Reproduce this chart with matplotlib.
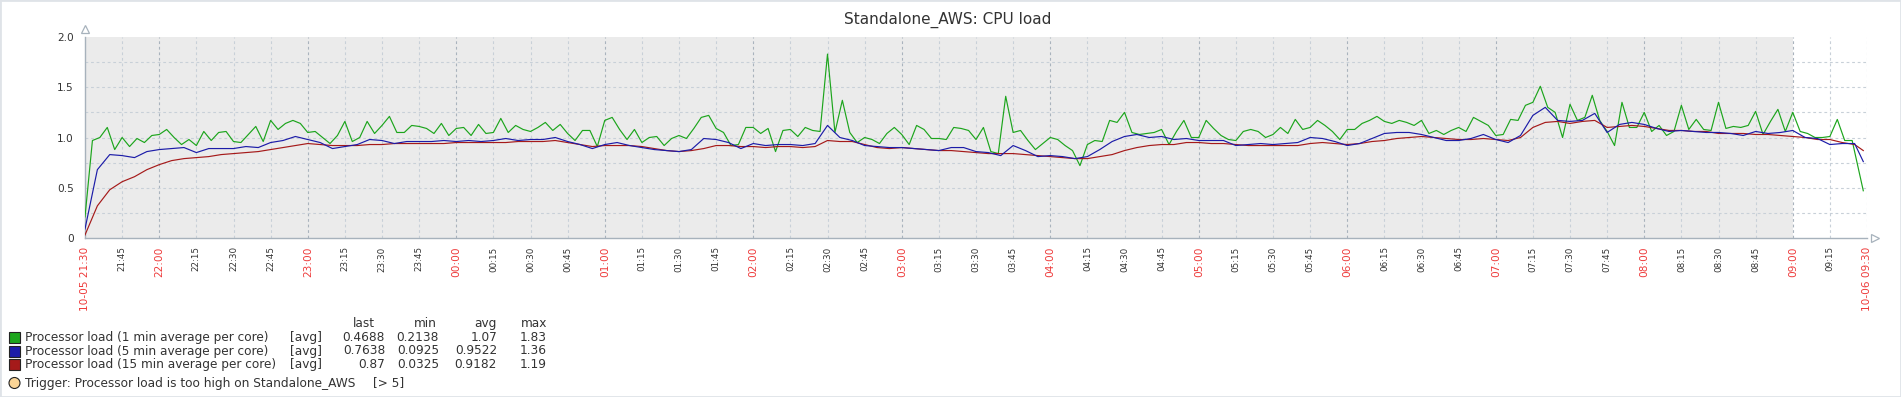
import numpy as np
import pandas as pd
import matplotlib
matplotlib.use("Agg")
import matplotlib.pyplot as plt
from matplotlib.patches import Rectangle, Ellipse

# данни, отчетени от графиката (минути след 10-05 21:30)
green_step = 3   # 1 min average, стойност на всеки 3 минути
green_load = [
    0.21, 0.97, 1.00, 1.10, 0.88, 1.00, 0.91, 0.99, 0.95, 1.02, 1.03, 1.08, 1.00, 0.93, 0.98,
    0.92, 1.06, 0.97, 1.05, 1.06, 0.96, 0.95, 1.03, 1.11, 0.96, 1.17, 1.08, 1.14, 1.17, 1.14,
    1.05, 1.06, 1.00, 0.94, 1.02, 1.16, 0.96, 1.00, 1.16, 1.04, 1.12, 1.21, 1.05, 1.05, 1.12,
    1.11, 1.09, 1.04, 1.14, 1.02, 1.09, 1.10, 1.02, 1.13, 1.04, 1.05, 1.19, 1.05, 1.12, 1.08,
    1.06, 1.10, 1.15, 1.07, 1.13, 1.04, 0.97, 1.07, 1.07, 0.91,
    1.17, 1.20, 1.08, 0.98, 1.08, 0.95, 1.00, 1.01, 0.92, 0.99, 1.02, 0.99, 1.09, 1.20, 1.22,
    1.09, 1.05, 0.92, 0.93, 1.10, 1.10, 1.04, 1.09, 0.86, 1.07, 1.08, 1.01, 1.10, 1.07, 1.06,
    1.83, 1.05, 1.37, 1.05, 0.95, 1.00, 0.98, 0.94, 1.04, 1.10,
    1.03, 0.93, 1.12, 1.08, 0.99, 0.99, 0.98, 1.10, 1.09, 1.07, 0.98, 1.10, 0.86, 0.84, 1.41,
    1.05, 1.07, 0.97, 0.88, 0.94, 1.00, 0.98, 0.92, 0.87, 0.72, 0.93, 0.97, 0.96, 1.17, 1.15,
    1.25, 1.05, 1.03, 1.04, 1.05, 1.08, 0.93, 1.06, 1.17, 1.00,
    1.00, 1.17, 1.09, 1.02, 0.98, 0.97, 1.06, 1.08, 1.06, 1.00, 1.03, 1.10, 1.04, 1.18, 1.08,
    1.10, 1.17, 1.12, 1.06, 0.98, 1.08, 1.08, 1.14, 1.17, 1.21, 1.16, 1.14, 1.17, 1.15, 1.12,
    1.17, 1.04, 1.07, 1.03, 1.07, 1.10, 1.06, 1.20, 1.16, 1.12,
    1.02, 1.03, 1.18, 1.17, 1.32, 1.35, 1.51, 1.30, 1.25, 1.00, 1.33, 1.17, 1.20, 1.42, 1.17,
    1.06, 0.92, 1.35, 1.10, 1.10, 1.25, 1.06, 1.12, 1.02, 1.06, 1.32, 1.08, 1.18, 1.08, 1.07,
    1.35, 1.09, 1.11, 1.10, 1.12, 1.26, 1.03, 1.16, 1.28, 1.06, 1.25, 1.06, 1.04, 1.00, 1.00,
    1.01, 1.18, 0.97, 0.97,
]
avg_step = 5    # 5 и 15 min average, стойност на всеки 5 минути
blue_load = [
    0.09, 0.68, 0.83, 0.82, 0.80, 0.86, 0.88, 0.89, 0.90, 0.85, 0.89, 0.89, 0.89, 0.91, 0.90,
    0.95, 0.97, 1.01, 0.98,
    0.95, 0.89, 0.91, 0.93, 0.98, 0.97, 0.94, 0.96, 0.96, 0.96, 0.97, 0.96, 0.97, 0.96, 0.97,
    0.99, 0.97, 0.98, 0.98, 1.00, 0.96, 0.93, 0.89, 0.93,
    0.95, 0.92, 0.90, 0.88, 0.87, 0.86, 0.88, 0.99, 0.98, 0.95, 0.89, 0.94, 0.92, 0.93, 0.93,
    0.92, 0.94, 1.12, 1.00, 0.97, 0.92, 0.91, 0.90, 0.90,
    0.89, 0.88, 0.87, 0.90, 0.90, 0.86, 0.85, 0.82, 0.92, 0.87, 0.81, 0.82, 0.81, 0.79, 0.81,
    0.88, 0.96, 1.01, 1.03, 1.00, 1.01, 0.98, 0.99, 0.97,
    0.97, 0.97, 0.92, 0.93, 0.94, 0.93, 0.94, 0.95, 1.00, 0.99, 0.96, 0.92, 0.94, 0.99, 1.04,
    1.05, 1.05, 1.03, 1.00, 0.97, 0.97, 0.99, 1.03, 0.98,
    0.95, 1.02, 1.22, 1.30, 1.17, 1.16, 1.17, 1.24, 1.05, 1.13, 1.15, 1.13, 1.09, 1.06, 1.07,
    1.06, 1.05, 1.05, 1.04, 1.02, 1.06, 1.04, 1.05, 1.07, 1.00, 0.99, 0.93, 0.94, 0.94,
]
red_load = [
    0.03, 0.32, 0.48, 0.56, 0.61, 0.68, 0.73, 0.77, 0.79, 0.80, 0.81, 0.83, 0.84, 0.85, 0.86,
    0.88, 0.90, 0.92, 0.94,
    0.93, 0.92, 0.92, 0.92, 0.93, 0.93, 0.94, 0.94, 0.94, 0.94, 0.94, 0.95, 0.95, 0.95, 0.95,
    0.95, 0.96, 0.96, 0.96, 0.97, 0.95, 0.93, 0.91, 0.92,
    0.92, 0.92, 0.91, 0.89, 0.87, 0.86, 0.87, 0.89, 0.92, 0.92, 0.91, 0.91, 0.90, 0.91, 0.91,
    0.90, 0.91, 0.97, 0.96, 0.96, 0.93, 0.90, 0.89, 0.90,
    0.89, 0.88, 0.87, 0.87, 0.86, 0.85, 0.84, 0.84, 0.84, 0.83, 0.82, 0.81, 0.80, 0.79, 0.79,
    0.81, 0.83, 0.87, 0.90, 0.92, 0.93, 0.93, 0.95, 0.95,
    0.94, 0.94, 0.93, 0.92, 0.92, 0.92, 0.92, 0.92, 0.94, 0.95, 0.94, 0.93, 0.94, 0.96, 0.97,
    0.99, 1.00, 1.01, 1.00, 0.99, 0.98, 0.98, 0.99, 0.98,
    0.97, 1.00, 1.10, 1.15, 1.16, 1.14, 1.16, 1.17, 1.10, 1.11, 1.12, 1.11, 1.09, 1.07, 1.07,
    1.06, 1.06, 1.04, 1.04, 1.04, 1.03, 1.03, 1.02, 1.01, 1.00, 0.98, 0.98, 0.95, 0.93,
]
last_minute = 718.5            # последната стойност (09:28)
last_values = [0.47, 0.76, 0.87]

legend_names = ["Processor load (1 min average per core)",
                "Processor load (5 min average per core)",
                "Processor load (15 min average per core)"]
legend_last = ["0.4688", "0.7638", "0.87"]
legend_min = ["0.2138", "0.0925", "0.0325"]
legend_avg = ["1.07", "0.9522", "0.9182"]
legend_max = ["1.83", "1.36", "1.19"]
colors = ["#1ca51c", "#1c1ca8", "#a51a1a"]

# етикети на оста x на всеки 15 минути
tick_times = pd.date_range("2023-10-05 21:30", "2023-10-06 09:30", freq="15min")
tick_labels = [t.strftime("%H:%M") for t in tick_times]
tick_labels[0] = "10-05 21:30"
tick_labels[-1] = "10-06 09:30"

W, H = 1901, 397
fig = plt.figure(figsize=(W / 100, H / 100), dpi=100)
fig.patch.set_facecolor("white")
fig.patches.append(Rectangle((0, 0), 1, 1, transform=fig.transFigure, fill=False,
                             edgecolor="#dfe3e8", lw=2))

ax = fig.add_axes([85 / W, 1 - 238 / H, 1782 / W, 201 / H])
ax.set_xlim(0, 720)
ax.set_ylim(0, 2.0)
ax.set_facecolor("white")
ax.axvspan(0, 690, color="#ebebeb", lw=0, zorder=0)

# мрежа
minutes = (tick_times - tick_times[0]).total_seconds() / 60
for m, t in zip(minutes[1:-1], tick_times[1:-1]):
    c = "#a9b3bd" if t.minute == 0 else "#c8d0d8"
    ax.axvline(m, color=c, lw=0.8, ls=(0, (2.5, 2.5)), zorder=1)
ax.axvline(720, color="#c8d0d8", lw=0.8, ls=(0, (2.5, 2.5)), zorder=1)
for v in np.arange(0.25, 2.0, 0.25):
    ax.axhline(v, color="#c8d0d8", lw=0.8, ls=(0, (2.5, 2.5)), zorder=1)

# линии
tg = list(np.arange(len(green_load)) * green_step) + [last_minute]
ta = list(np.arange(len(blue_load)) * avg_step) + [last_minute]
ax.plot(tg, green_load + [last_values[0]], color=colors[0], lw=0.85, zorder=3)
ax.plot(ta, red_load + [last_values[2]], color=colors[2], lw=0.85, zorder=4)
ax.plot(ta, blue_load + [last_values[1]], color=colors[1], lw=0.85, zorder=4)

for s in ["top", "right"]:
    ax.spines[s].set_visible(False)
for s in ["left", "bottom"]:
    ax.spines[s].set_color("#a7b2bc")
    ax.spines[s].set_linewidth(1)
ax.plot(0, 1.04, marker="^", ms=6, mfc="white", mec="#a7b2bc", mew=0.9,
        transform=ax.transAxes, clip_on=False)
ax.plot(1.0045, 0, marker=">", ms=6, mfc="white", mec="#a7b2bc", mew=0.9,
        transform=ax.transAxes, clip_on=False)

ax.set_yticks([0, 0.5, 1.0, 1.5, 2.0])
ax.set_yticklabels(["0", "0.5", "1.0", "1.5", "2.0"], fontsize=7.6, color="#333333")
ax.tick_params(axis="y", length=0, pad=8)
ax.set_xticks(minutes)
ax.set_xticklabels(tick_labels, rotation=90)
ax.tick_params(axis="x", length=0, pad=6)
for lbl, t in zip(ax.get_xticklabels(), tick_times):
    if t.minute == 0 or lbl.get_text().startswith("10-"):
        lbl.set_color("#ee3b3b")
        lbl.set_fontsize(7.6)
    else:
        lbl.set_color("#333333")
        lbl.set_fontsize(6.3)
ax.get_xticklabels()[0].set_color("#ee3b3b")
ax.get_xticklabels()[0].set_fontsize(7.6)

fig.text(948 / W, 1 - 20 / H, "Standalone_AWS: CPU load", ha="center", va="center",
         fontsize=11, color="#333333")

# легенда
fs = 8.7
tc = "#333333"
fig.text(375 / W, 1 - 323.5 / H, "last", ha="right", va="center", fontsize=fs, color=tc)
fig.text(437 / W, 1 - 323.5 / H, "min", ha="right", va="center", fontsize=fs, color=tc)
fig.text(497 / W, 1 - 323.5 / H, "avg", ha="right", va="center", fontsize=fs, color=tc)
fig.text(547 / W, 1 - 323.5 / H, "max", ha="right", va="center", fontsize=fs, color=tc)
for i in range(3):
    yy = 337.5 + i * 13.5
    fig.patches.append(Rectangle((9 / W, 1 - (yy + 5.5) / H), 11 / W, 11 / H,
                                 transform=fig.transFigure, facecolor=colors[i],
                                 edgecolor="#222222", lw=0.8))
    fig.text(25 / W, 1 - yy / H, legend_names[i], ha="left", va="center", fontsize=fs, color=tc)
    fig.text(290 / W, 1 - yy / H, "[avg]", ha="left", va="center", fontsize=fs, color=tc)
    fig.text(385 / W, 1 - yy / H, legend_last[i], ha="right", va="center", fontsize=fs, color=tc)
    fig.text(439 / W, 1 - yy / H, legend_min[i], ha="right", va="center", fontsize=fs, color=tc)
    fig.text(497 / W, 1 - yy / H, legend_avg[i], ha="right", va="center", fontsize=fs, color=tc)
    fig.text(547 / W, 1 - yy / H, legend_max[i], ha="right", va="center", fontsize=fs, color=tc)

fig.patches.append(Ellipse((14.5 / W, 1 - 383 / H), 11 / W, 11 / H, transform=fig.transFigure,
                           facecolor="#fbd596", edgecolor="#222222", lw=0.8))
fig.text(25 / W, 1 - 383 / H, "Trigger: Processor load is too high on Standalone_AWS",
         ha="left", va="center", fontsize=fs, color=tc)
fig.text(373 / W, 1 - 383 / H, "[> 5]", ha="left", va="center", fontsize=fs, color=tc)

fig.savefig("out.png", dpi=100)
